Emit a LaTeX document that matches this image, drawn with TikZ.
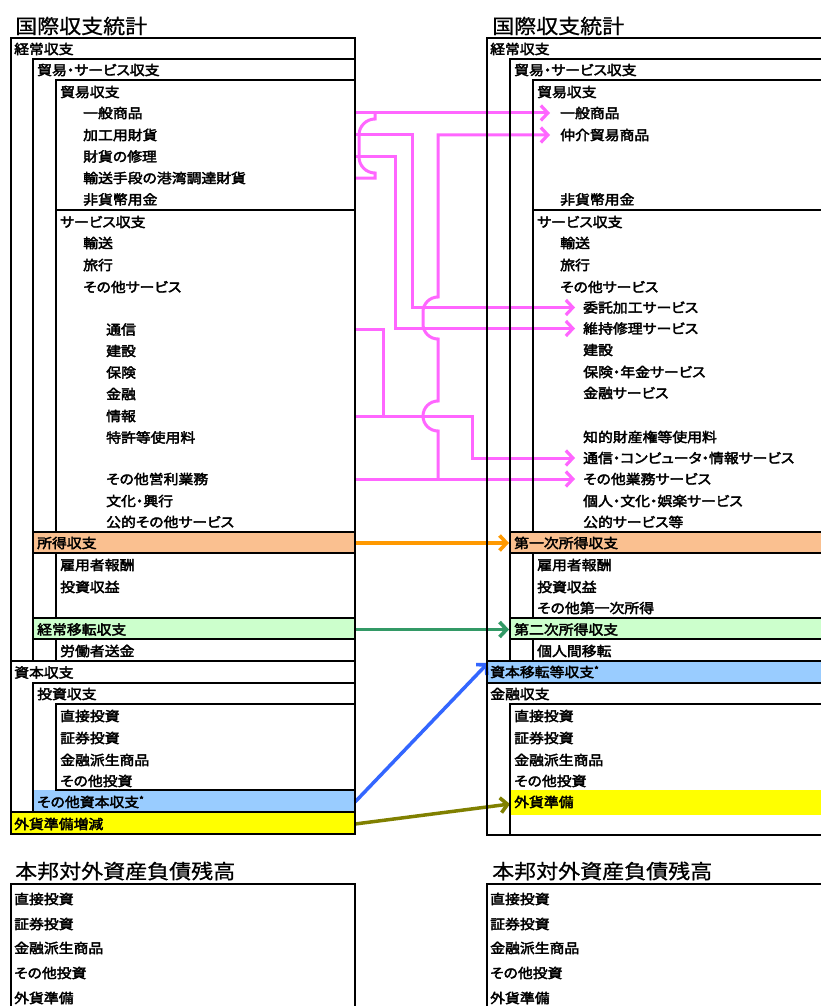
\documentclass[tikz,border=0pt]{standalone}
\usepackage{fontspec}
\usetikzlibrary{arrows.meta}
\newfontfamily\jpfont{Noto Sans CJK JP}[FakeStretch=1.1,FakeBold=2.8,RawFeature={+palt}]
\newfontfamily\jptitlefont{Noto Sans CJK JP}[FakeStretch=1.1,FakeBold=0.8]
\newcommand\itemf{\jpfont\fontsize{13.5pt}{16pt}\selectfont}
\newcommand\titlef{\jptitlefont\fontsize{20pt}{24pt}\selectfont}
\newcommand\astx{\raisebox{4pt}{\fontsize{9pt}{9pt}\selectfont *}}
\definecolor{pinkc}{RGB}{255,102,255}
\definecolor{orangec}{RGB}{255,153,0}
\definecolor{greenc}{RGB}{51,153,102}
\definecolor{bluec}{RGB}{51,102,255}
\definecolor{olivec}{RGB}{128,128,0}
\definecolor{orfill}{RGB}{250,192,144}
\definecolor{grfill}{RGB}{204,255,204}
\definecolor{blfill}{RGB}{153,204,255}
\definecolor{yefill}{RGB}{255,255,0}
\begin{document}
\begin{tikzpicture}[x=1pt,y=-1pt,
  box/.style={draw=black,line width=1.7pt},
  lbl/.style={anchor=west,inner sep=0pt,font=\itemf},
  ttl/.style={anchor=west,inner sep=0pt,font=\titlef},
  pk/.style={draw=pinkc,line width=3pt},
  pka/.style={pk,-{Straight Barb[length=7pt,width=15pt,line width=3.2pt]}},
  ca/.style={line width=3.5pt,-{Straight Barb[length=7pt,width=15pt,line width=3.6pt]}}]
\path[use as bounding box] (0,0) rectangle (821,1006);
\clip (0,0) rectangle (821,1006);
\fill[white] (0,0) rectangle (821,1006);

% ---------- fills ----------
\fill[orfill] (33,532) rectangle (355,553);
\fill[grfill] (33,618) rectangle (355,639);
\fill[blfill] (33,790) rectangle (355,812);
\fill[yefill] (11,812) rectangle (355,834);
\fill[orfill] (510,532) rectangle (830,553);
\fill[grfill] (510,618) rectangle (830,639);
\fill[blfill] (487,661) rectangle (830,683);
\fill[yefill] (510,790) rectangle (830,815);

% ---------- texts left ----------
\node[ttl] (lTitle) at (15,26) {国際収支統計};
\node[lbl] at (14,49) {経常収支};
\node[lbl] at (37,70) {貿易・サービス収支};
\node[lbl] at (60,92) {貿易収支};
\node[lbl] (lIppan) at (83,113) {一般商品};
\node[lbl] (lKako) at (83,135) {加工用財貨};
\node[lbl] (lShuri) at (83,156.5) {財貨の修理};
\node[lbl] (lYuso) at (83,178) {輸送手段の港湾調達財貨};
\node[lbl] at (83,199.5) {非貨幣用金};
\node[lbl] at (60,222) {サービス収支};
\node[lbl] at (83,243) {輸送};
\node[lbl] at (83,265) {旅行};
\node[lbl] at (83,287) {その他サービス};
\node[lbl] (lTsushin) at (106,329.5) {通信};
\node[lbl] at (106,351) {建設};
\node[lbl] at (106,372.5) {保険};
\node[lbl] at (106,394) {金融};
\node[lbl] (lJoho) at (106,416) {情報};
\node[lbl] at (106,437.5) {特許等使用料};
\node[lbl] (lEiri) at (106,479) {その他営利業務};
\node[lbl] at (106,501) {文化・興行};
\node[lbl] at (106,522) {公的その他サービス};
\node[lbl] at (37,543) {所得収支};
\node[lbl] at (60,565) {雇用者報酬};
\node[lbl] at (60,587) {投資収益};
\node[lbl] at (37,629.5) {経常移転収支};
\node[lbl] at (60,651) {労働者送金};
\node[lbl] at (14,672.5) {資本収支};
\node[lbl] at (37,694) {投資収支};
\node[lbl] at (60,716) {直接投資};
\node[lbl] at (60,738) {証券投資};
\node[lbl] at (60,760) {金融派生商品};
\node[lbl] at (60,781) {その他投資};
\node[lbl] at (37,802) {その他資本収支\astx};
\node[lbl] at (14,824) {外貨準備増減};

% ---------- texts right ----------
\node[ttl] (rTitle) at (492,26) {国際収支統計};
\node[lbl] at (490,49) {経常収支};
\node[lbl] at (514,70) {貿易・サービス収支};
\node[lbl] at (537,92) {貿易収支};
\node[lbl] (rIppan) at (560,113) {一般商品};
\node[lbl] (rChukai) at (560,135) {仲介貿易商品};
\node[lbl] at (560,199.5) {非貨幣用金};
\node[lbl] at (537,222) {サービス収支};
\node[lbl] at (560,243) {輸送};
\node[lbl] at (560,265) {旅行};
\node[lbl] at (560,287) {その他サービス};
\node[lbl] (rItaku) at (583,307.5) {委託加工サービス};
\node[lbl] (rIji) at (583,328.5) {維持修理サービス};
\node[lbl] at (583,350) {建設};
\node[lbl] at (583,372) {保険・年金サービス};
\node[lbl] at (583,393) {金融サービス};
\node[lbl] at (583,437) {知的財産権等使用料};
\node[lbl] (rTsuCom) at (583,458) {通信・コンピュータ・情報サービス};
\node[lbl] (rGyomu) at (583,479) {その他業務サービス};
\node[lbl] at (583,501) {個人・文化・娯楽サービス};
\node[lbl] at (583,522) {公的サービス等};
\node[lbl] at (514,543) {第一次所得収支};
\node[lbl] at (537,565) {雇用者報酬};
\node[lbl] at (537,587) {投資収益};
\node[lbl] at (537,608) {その他第一次所得};
\node[lbl] at (514,629.5) {第二次所得収支};
\node[lbl] at (537,651) {個人間移転};
\node[lbl] at (490,672) {資本移転等収支\astx};
\node[lbl] at (490,694) {金融収支};
\node[lbl] at (514,716) {直接投資};
\node[lbl] at (514,738) {証券投資};
\node[lbl] at (514,760) {金融派生商品};
\node[lbl] at (514,781) {その他投資};
\node[lbl] at (514,802) {外貨準備};

% ---------- bottom ----------
\node[ttl] at (15,871) {本邦対外資産負債残高};
\node[ttl] at (492,871) {本邦対外資産負債残高};
\foreach \t/\y in {直接投資/899,証券投資/924,金融派生商品/948,その他投資/973,外貨準備/998}{
  \node[lbl] at (14,\y) {\t};
  \node[lbl] at (490,\y) {\t};
}

% ---------- coordinates ----------
\coordinate (E) at (355,0);
\coordinate (sIppan) at (lIppan -| E);
\coordinate (sKako) at (lKako -| E);
\coordinate (sShuri) at (lShuri -| E);
\coordinate (sYuso) at (lYuso -| E);
\coordinate (sTsushin) at (lTsushin -| E);
\coordinate (sJoho) at (lJoho -| E);
\coordinate (sEiri) at (lEiri -| E);
\coordinate (sShotoku) at (355,543);
\coordinate (tDaiichi) at (509,543);
\coordinate (sIten) at (355,629.5);
\coordinate (tDaini) at (509,629.5);
\coordinate (sShihon) at (355,802);
\coordinate (tShihon) at (488,663);
\coordinate (sGaika) at (355,824);
\coordinate (tGaika) at (510,804);

% ---------- pink connectors ----------
\draw[pka,shorten >=10pt] (sIppan) -- (rIppan.west);
\draw[pk] (sYuso) -- (375,178) -- (375,173)
  .. controls (366.2,173) and (359,165.8) .. (359,157)
  -- (359,135) .. controls (359,126.2) and (366.2,119) .. (375,119) -- (375,113);
\draw[pka,shorten >=8pt] (sKako) -- (412,135) |- (rItaku.west);
\draw[pka,shorten >=8pt] (sShuri) -- (395,156.5) |- (rIji.west);
\draw[pk] (sTsushin) -- (383,329.5) -- (383,416);
\draw[pka,shorten >=8pt] (sJoho) -- (472,416) |- (rTsuCom.west);
\draw[pka,shorten >=8pt] (sEiri) -- (rGyomu.west);
\draw[pka,shorten >=10pt] (438,479) -- (438,431)
  .. controls (429.7,431) and (423,424.3) .. (423,416)
  .. controls (423,407.7) and (429.7,401) .. (438,401)
  -- (438,339)
  .. controls (429.7,339) and (423,332.3) .. (423,324)
  -- (423,312) .. controls (423,303.7) and (429.7,297) .. (438,297)
  |- (rChukai.west);

% ---------- other connectors ----------
\draw[ca,orangec] (sShotoku) -- (tDaiichi);
\draw[ca,greenc] (sIten) -- (tDaini);
\draw[ca,bluec] (sShihon) -- (tShihon);
\draw[ca,olivec] (sGaika) -- (tGaika);

% ---------- boxes left ----------
\draw[box] (11,38) rectangle (355,661);
\draw[box] (33,59) rectangle (355,661);
\draw[box] (56,80) rectangle (355,210);
\draw[box] (56,210) rectangle (355,532);
\draw[box] (33,532) rectangle (355,553);
\draw[box] (56,553) rectangle (355,618);
\draw[box] (33,618) rectangle (355,639);
\draw[box] (56,639) rectangle (355,661);
\draw[box] (11,661) rectangle (355,812);
\draw[box] (33,683) rectangle (355,812);
\draw[box] (56,704) rectangle (355,790);
\draw[box] (11,812) rectangle (355,834);
% ---------- boxes right ----------
\draw[box] (487,38) rectangle (830,661);
\draw[box] (510,59) rectangle (830,661);
\draw[box] (533,80) rectangle (830,210);
\draw[box] (533,210) rectangle (830,532);
\draw[box] (510,532) rectangle (830,553);
\draw[box] (533,553) rectangle (830,618);
\draw[box] (510,618) rectangle (830,639);
\draw[box] (533,639) rectangle (830,661);
\draw[box] (487,661) rectangle (830,683);
\draw[box] (487,683) rectangle (830,835);
\draw[box] (510,704) rectangle (830,835);
% ---------- bottom boxes ----------
\draw[box] (11,884) rectangle (355,1020);
\draw[box] (487,884) rectangle (830,1020);
\end{tikzpicture}
\end{document}
